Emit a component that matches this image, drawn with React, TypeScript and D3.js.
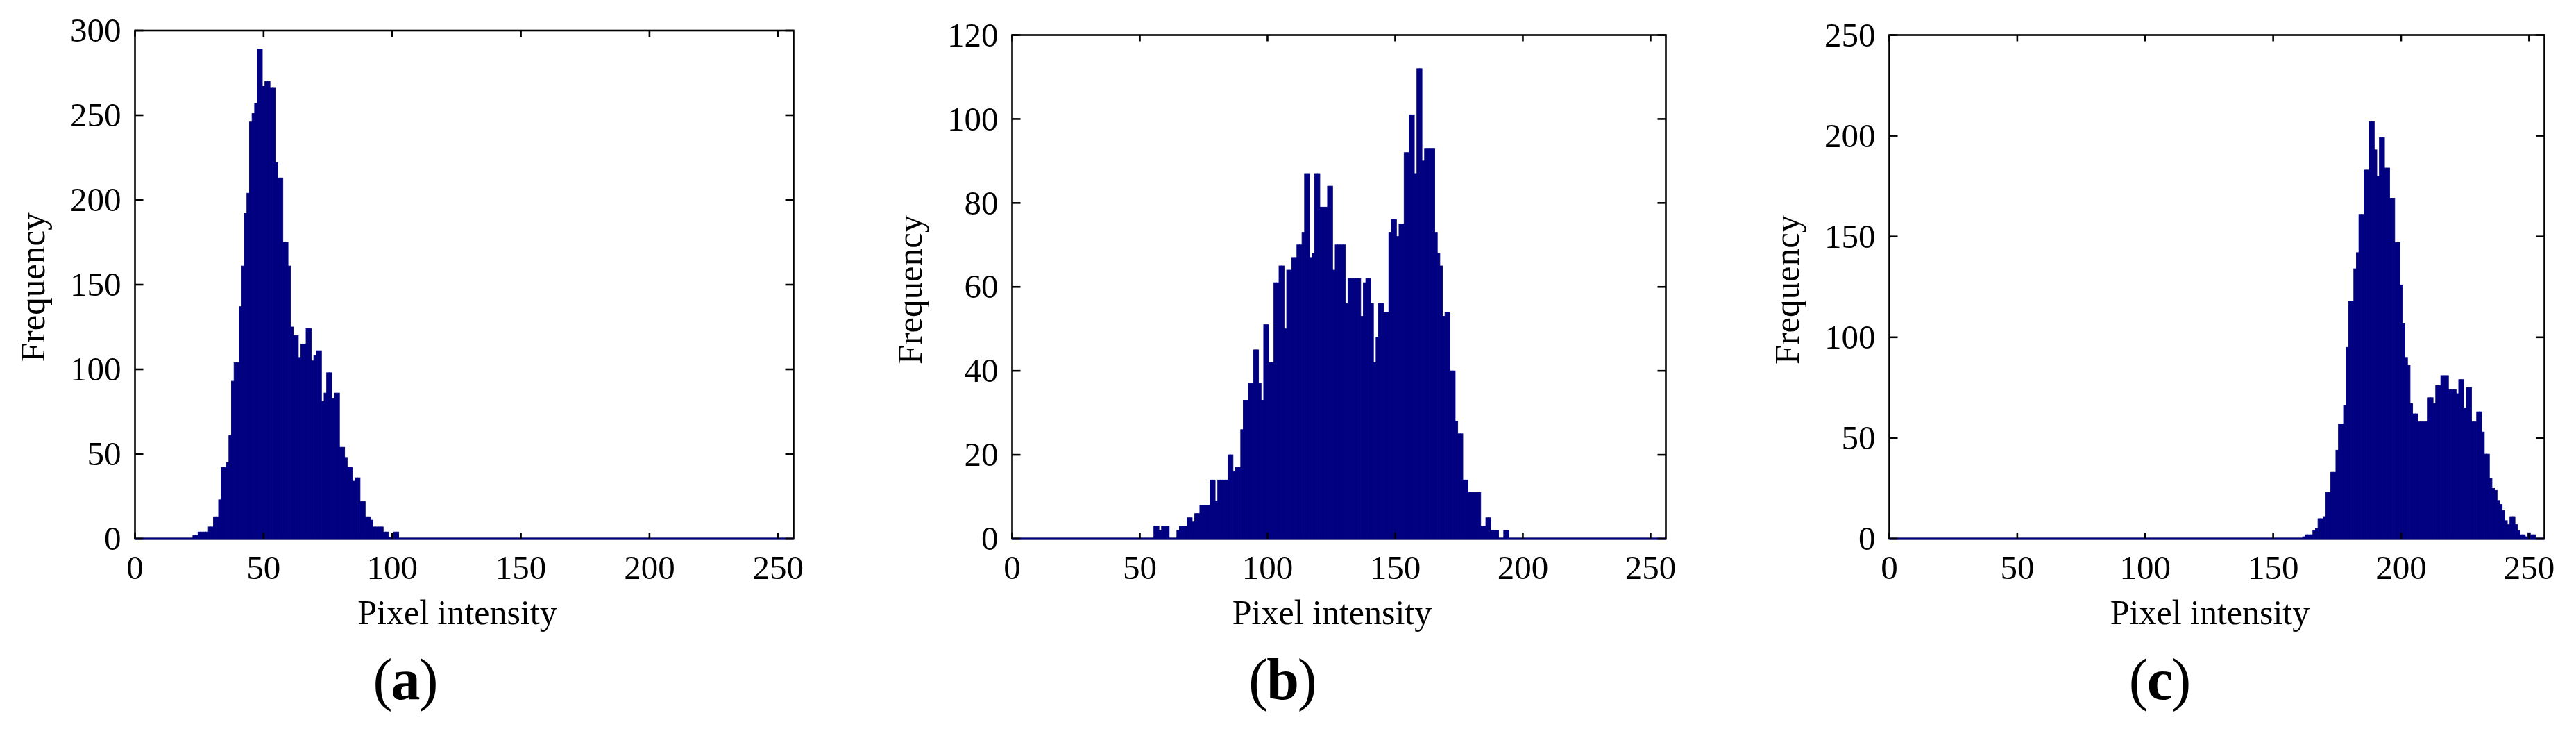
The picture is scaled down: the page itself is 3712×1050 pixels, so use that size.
import React from "react";
import * as d3 from "d3";

// ---- data (pixel-intensity histograms, 1-unit bins) ----
const INTENSITY_TICKS = [0, 50, 100, 150, 200, 250];
const X_LABEL = "Pixel intensity";
const Y_LABEL = "Frequency";

const A_START = 23;
const A_COUNTS = [
  2, 2, 4, 4, 4, 4, 7, 7, 13, 13, 23, 42, 42, 45, 61, 93, 104, 104, 137, 161,
  192, 204, 246, 251, 257, 289, 289, 267, 270, 270, 266, 266, 222, 213, 213, 175, 175, 161, 125, 120,
  120, 107, 115, 115, 124, 124, 105, 108, 111, 111, 81, 86, 98, 98, 83, 86, 86, 54, 54, 48,
  42, 42, 34, 36, 36, 22, 22, 13, 13, 11, 7, 7, 7, 7, 4, 4, 1, 1, 4, 4,
];
const A_YTICKS = [0, 50, 100, 150, 200, 250, 300];

const B_START = 56;
const B_COUNTS = [
  3, 3, 2, 3, 3, 3, 0, 0, 0, 2, 3, 3, 3, 5, 5, 4, 6, 6, 8, 8,
  8, 8, 14, 14, 9, 14, 14, 14, 14, 20, 20, 16, 17, 17, 26, 33, 33, 37, 37, 45,
  45, 37, 33, 51, 51, 42, 42, 61, 61, 65, 65, 50, 64, 64, 67, 67, 70, 70, 73, 87,
  87, 67, 68, 87, 87, 79, 79, 79, 84, 84, 64, 70, 70, 70, 70, 56, 62, 62, 62, 62,
  62, 53, 61, 62, 62, 56, 42, 48, 56, 56, 54, 54, 73, 76, 76, 72, 75, 75, 92, 92,
  101, 101, 87, 112, 112, 90, 93, 93, 93, 93, 73, 68, 65, 53, 54, 54, 40, 40, 28, 25,
  25, 14, 14, 11, 11, 11, 11, 11, 3, 3, 5, 5, 2, 2, 2, 0, 0, 2, 2,
];
const B_YTICKS = [0, 20, 40, 60, 80, 100, 120];

const C_START = 162;
const C_COUNTS = [
  1, 2, 2, 2, 4, 5, 10, 10, 11, 23, 23, 33, 33, 44, 57, 57, 66, 95, 118, 118,
  134, 142, 161, 161, 183, 183, 207, 207, 193, 180, 199, 199, 184, 184, 169, 169, 147, 147, 126, 107,
  90, 86, 67, 62, 62, 58, 58, 58, 58, 70, 70, 67, 76, 76, 81, 81, 81, 74, 74, 74,
  72, 79, 79, 65, 75, 75, 58, 58, 63, 63, 53, 42, 42, 30, 25, 24, 19, 17, 14, 9,
  7, 11, 11, 7, 4, 2, 2, 1, 3, 2, 2,
];
const C_YTICKS = [0, 50, 100, 150, 200, 250];

const PANEL_LABELS = ["a", "b", "c"];

// ---- layout / style ----
const W = 3712;
const H = 1050;
const BAR = "#000080";
const FONT = "'Liberation Serif', 'Times New Roman', serif";

interface PanelProps {
  left: number;
  right: number;
  top: number;
  bottom: number;
  start: number;
  counts: number[];
  yTicks: number[];
  label: string;
}

function Panel({ left, right, top, bottom, start, counts, yTicks, label }: PanelProps) {
  const x = d3.scaleLinear().domain([0, 256]).range([left, right]);
  const yMax = yTicks[yTicks.length - 1];
  const y = d3.scaleLinear().domain([0, yMax]).range([bottom, top]);
  const bins = counts.map((v, i) => ({ k: start + i, v }));
  const cx = (left + right) / 2;
  const cy = (top + bottom) / 2;
  const xTickLen = 9;
  const yTickLen = 12;
  const tickFont = 49;
  return (
    <g>
      <rect x={left} y={top} width={right - left} height={bottom - top} fill="#fff" stroke="#000" strokeWidth={2.6} />
      {bins
        .filter((b) => b.v > 0)
        .map((b) => (
          <rect
            key={b.k}
            x={x(b.k - 0.5)}
            y={y(b.v)}
            width={x(b.k + 0.5) - x(b.k - 0.5)}
            height={y(0) - y(b.v)}
            fill={BAR}
            stroke={BAR}
            strokeWidth={0.9}
          />
        ))}
      <line x1={left} x2={right} y1={y(0)} y2={y(0)} stroke={BAR} strokeWidth={3} />
      {INTENSITY_TICKS.map((t) => (
        <g key={"xt" + t}>
          <line x1={x(t)} x2={x(t)} y1={bottom} y2={bottom - xTickLen} stroke="#000" strokeWidth={2.6} />
          <line x1={x(t)} x2={x(t)} y1={top} y2={top + xTickLen} stroke="#000" strokeWidth={2.6} />
          <text x={x(t)} y={bottom + 58} textAnchor="middle" fontFamily={FONT} fontSize={tickFont} fill="#000">
            {t}
          </text>
        </g>
      ))}
      {yTicks.map((t) => (
        <g key={"yt" + t}>
          <line x1={left} x2={left + yTickLen} y1={y(t)} y2={y(t)} stroke="#000" strokeWidth={2.6} />
          <line x1={right} x2={right - yTickLen} y1={y(t)} y2={y(t)} stroke="#000" strokeWidth={2.6} />
          <text x={left - 20} y={y(t) + tickFont * 0.33} textAnchor="end" fontFamily={FONT} fontSize={tickFont} fill="#000">
            {t}
          </text>
        </g>
      ))}
      <text x={cx - 10} y={899} textAnchor="middle" fontFamily={FONT} fontSize={50} fill="#000">
        {X_LABEL}
      </text>
      <text
        transform={`translate(${left - 131},${cy + 4}) rotate(-90)`}
        textAnchor="middle"
        fontFamily={FONT}
        fontSize={51}
        fill="#000"
      >
        {Y_LABEL}
      </text>
      <text x={left + 389} y={1007} textAnchor="middle" fontFamily={FONT} fontSize={84} letterSpacing={-2} fill="#000">
        (<tspan fontWeight="bold">{label}</tspan>)
      </text>
    </g>
  );
}

export default function App() {
  const panels = [
    { left: 194.5, right: 1143.5, top: 44, bottom: 776, start: A_START, counts: A_COUNTS, yTicks: A_YTICKS },
    { left: 1458.5, right: 2400.5, top: 50.5, bottom: 776, start: B_START, counts: B_COUNTS, yTicks: B_YTICKS },
    { left: 2722.5, right: 3666.5, top: 50.5, bottom: 776, start: C_START, counts: C_COUNTS, yTicks: C_YTICKS },
  ];
  return (
    <svg
      width={W}
      height={H}
      viewBox={`0 0 ${W} ${H}`}
      style={{ position: "absolute", left: 0, top: 0, background: "#fff" }}
    >
      <rect x={0} y={0} width={W} height={H} fill="#fff" />
      {panels.map((p, i) => (
        <Panel key={i} {...p} label={PANEL_LABELS[i]} />
      ))}
    </svg>
  );
}
